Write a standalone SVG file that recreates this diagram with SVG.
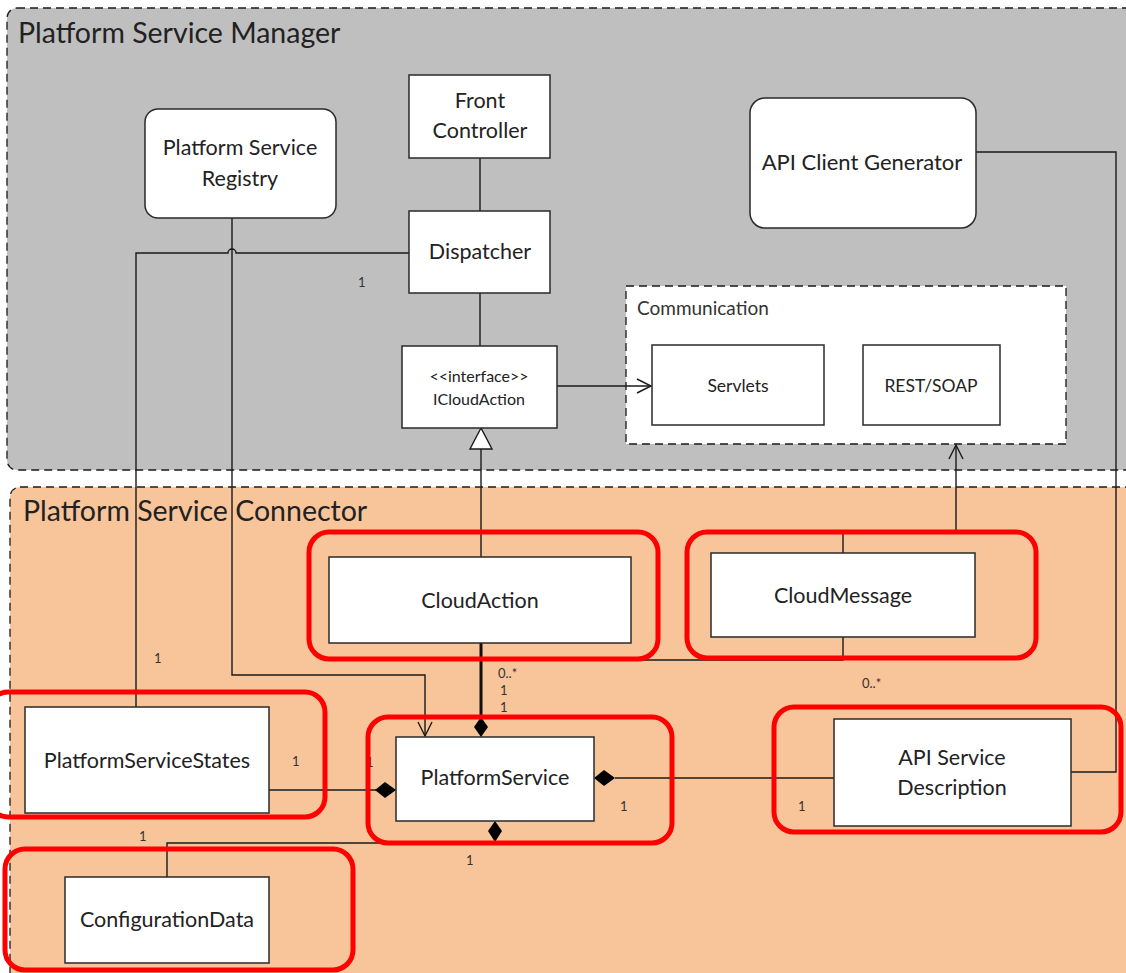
<svg xmlns="http://www.w3.org/2000/svg" width="1126" height="973" viewBox="0 0 1126 973">
  <defs>
    <style>
      .panel { stroke: #1a1a1a; stroke-width: 1.3; stroke-dasharray: 8 5; }
      .box { fill: #ffffff; stroke: #2a2a2a; stroke-width: 1.5; }
      .line { fill: none; stroke: #1a1a1a; stroke-width: 1.4; }
      .thick { fill: none; stroke: #111; stroke-width: 3; }
      .hl { fill: none; stroke: #ff0000; stroke-width: 5; }
      .t { font-family: Lato, "Liberation Sans", sans-serif; fill: #222; text-anchor: middle; font-size: 21.5px; }
      .s { font-family: Lato, "Liberation Sans", sans-serif; fill: #222; text-anchor: middle; font-size: 17.5px; }
      .title { font-family: Lato, "Liberation Sans", sans-serif; fill: #222; font-size: 28.5px; }
      .m { font-family: Lato, "Liberation Sans", sans-serif; fill: #333; font-size: 13px; }
      .dia { fill: #000; }
    </style>
    <marker id="open" markerUnits="userSpaceOnUse" markerWidth="18" markerHeight="18" refX="15" refY="8" orient="auto">
      <path d="M1,1 L15,8 L1,15" fill="none" stroke="#1a1a1a" stroke-width="1.4"/>
    </marker>
  </defs>

  <!-- background panels -->
  <g id="manager-panel">
    <rect class="panel" x="7" y="8" width="1140" height="462" rx="10" fill="#bfbfbf"/>
    <text class="title" x="18" y="43">Platform Service Manager</text>
  </g>
  <g id="connector-panel">
    <rect class="panel" x="10" y="487" width="1140" height="500" rx="10" fill="#f8c49a"/>
    <text class="title" x="23" y="521">Platform Service Connector</text>
  </g>
  <g id="communication">
    <rect class="panel" x="626" y="286" width="440" height="158" fill="#ffffff"/>
    <text class="m" x="637" y="315" style="font-size:19px">Communication</text>
  </g>

  <!-- connectors -->
  <g id="connectors">
    <path class="line" d="M480,158 V211"/>
    <path class="line" d="M480,293 V346"/>
    <path class="line" d="M232,218 V675 H425 V736" marker-end="url(#open)"/>
    <path class="line" d="M409,253 H236 A4,4 0 0 0 228,253 H136 V707"/>
    <path class="line" d="M557,386 H651" marker-end="url(#open)"/>
    <path class="line" d="M481,557 V449"/>
    <polygon points="481,428 470,449 492,449" fill="#ffffff" stroke="#1a1a1a" stroke-width="1.4"/>
    <path class="line" d="M976,152 H1116 V772 H1071"/>
    <path class="thick" d="M481,643 V719"/>
    <polygon class="dia" points="481,717 488,727 481,737 474,727"/>
    <path class="line" d="M843,637 V660 H481"/>
    <path class="line" d="M843,553 V532 H956 V445" marker-end="url(#open)"/>
    <path class="line" d="M269,790 H376"/>
    <polygon class="dia" points="375,790 385,782 396,790 385,798"/>
    <path class="line" d="M615,778 H834"/>
    <polygon class="dia" points="594,778 604,770 615,778 604,786"/>
    <path class="line" d="M167,877 V843 H495"/>
    <polygon class="dia" points="495,821 502,831 495,842 488,831"/>

    <text class="m" x="358" y="287">1</text>
    <text class="m" x="154" y="663">1</text>
    <text class="m" x="498" y="678">0..*</text>
    <text class="m" x="500" y="695">1</text>
    <text class="m" x="500" y="712">1</text>
    <text class="m" x="862" y="688">0..*</text>
    <text class="m" x="292" y="766">1</text>
    <text class="m" x="366" y="767">1</text>
    <text class="m" x="139" y="841">1</text>
    <text class="m" x="466" y="865">1</text>
    <text class="m" x="620" y="811">1</text>
    <text class="m" x="798" y="811">1</text>
  </g>

  <!-- manager nodes -->
  <g id="front-controller">
    <rect class="box" x="409" y="75" width="141" height="83"/>
    <text class="t" x="480" y="108">Front</text>
    <text class="t" x="480" y="138">Controller</text>
  </g>
  <g id="registry">
    <rect class="box" x="145" y="109" width="191" height="109" rx="13"/>
    <text class="t" x="240" y="155">Platform Service</text>
    <text class="t" x="240" y="186">Registry</text>
  </g>
  <g id="dispatcher">
    <rect class="box" x="409" y="211" width="141" height="82"/>
    <text class="t" x="480" y="259">Dispatcher</text>
  </g>
  <g id="icloudaction">
    <rect class="box" x="402" y="346" width="155" height="82"/>
    <text class="s" x="479" y="382" style="font-size:16px">&lt;&lt;interface&gt;&gt;</text>
    <text class="s" x="479" y="405" style="font-size:16px">ICloudAction</text>
  </g>
  <g id="api-client-generator">
    <rect class="box" x="750" y="98" width="226" height="130" rx="15"/>
    <text class="t" x="862" y="170" style="font-size:22px">API Client Generator</text>
  </g>
  <g id="servlets">
    <rect class="box" x="652" y="345" width="172" height="80"/>
    <text class="s" x="738" y="392">Servlets</text>
  </g>
  <g id="rest-soap">
    <rect class="box" x="863" y="345" width="137" height="80"/>
    <text class="s" x="931" y="392">REST/SOAP</text>
  </g>

  <!-- connector nodes -->
  <g id="cloudaction">
    <rect class="box" x="329" y="557" width="302" height="86"/>
    <text class="t" x="480" y="608">CloudAction</text>
  </g>
  <g id="cloudmessage">
    <rect class="box" x="711" y="553" width="264" height="84"/>
    <text class="t" x="843" y="603">CloudMessage</text>
  </g>
  <g id="platformservicestates">
    <rect class="box" x="25" y="707" width="244" height="106"/>
    <text class="t" x="147" y="768">PlatformServiceStates</text>
  </g>
  <g id="platformservice">
    <rect class="box" x="396" y="737" width="198" height="84"/>
    <text class="t" x="495" y="785">PlatformService</text>
  </g>
  <g id="api-service-description">
    <rect class="box" x="834" y="719" width="237" height="107"/>
    <text class="t" x="952" y="765">API Service</text>
    <text class="t" x="952" y="795">Description</text>
  </g>
  <g id="configurationdata">
    <rect class="box" x="65" y="877" width="204" height="86"/>
    <text class="t" x="167" y="927">ConfigurationData</text>
  </g>

  <!-- highlight outlines -->
  <g id="highlights">
    <rect class="hl" x="309" y="532" width="349" height="127" rx="20"/>
    <rect class="hl" x="687" y="532" width="349" height="126" rx="20"/>
    <rect class="hl" x="-12" y="692" width="337" height="125" rx="20"/>
    <rect class="hl" x="368" y="717" width="304" height="126" rx="20"/>
    <rect class="hl" x="774" y="707" width="347" height="125" rx="20"/>
    <rect class="hl" x="5" y="849" width="348" height="121" rx="20"/>
  </g>
</svg>
